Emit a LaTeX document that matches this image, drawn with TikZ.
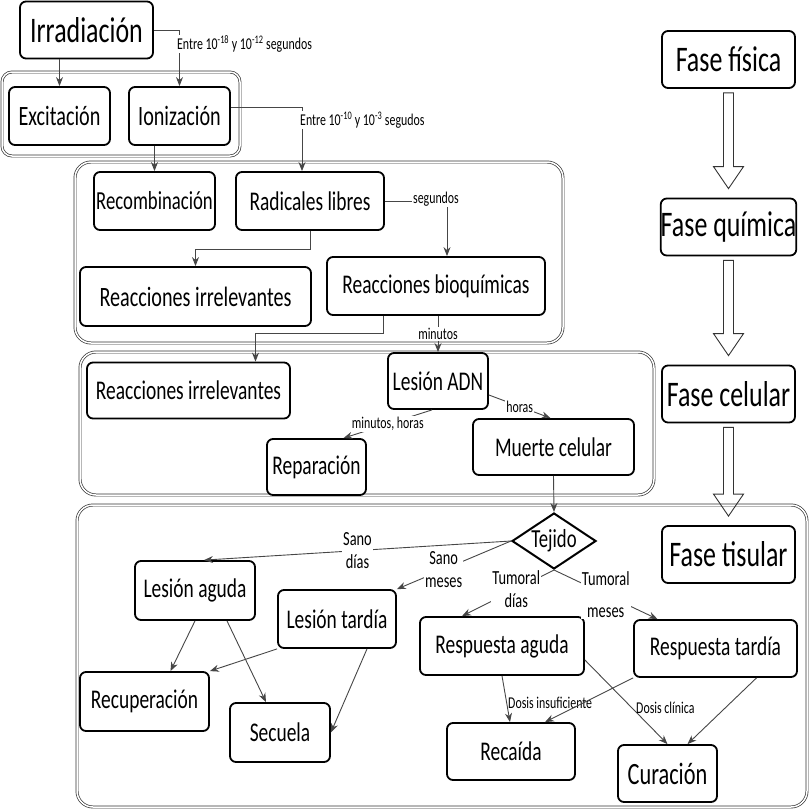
\documentclass[tikz,border=0pt]{standalone}
\usepackage{fontspec}
\setmainfont{Carlito}[FakeStretch=0.72]
\usepackage{tikz}
\usetikzlibrary{arrows.meta, calc, shapes.geometric}
\definecolor{lnk_gray}{RGB}{70,70,70}

\begin{document}
\begin{tikzpicture}[x=1pt,y=-1pt,
    caja/.style={draw, line width=1.8pt, rounded corners=6pt, fill=white, inner sep=0pt, font=\fontsize{27}{30}\selectfont},
    fase/.style={caja, font=\fontsize{36}{40}\selectfont, minimum width=133, minimum height=57},
    grupo/.style={draw=black!80, line width=0.7pt, double=white, double distance=1.5pt, rounded corners=16pt},
    flecha/.style={draw=lnk_gray, line width=0.9pt, -{Stealth[length=9pt,width=7pt]}},
    etiq/.style={fill=white, inner sep=1pt, font=\fontsize{16.5}{18}\selectfont},
    etiqT/.style={fill=white, inner sep=1pt, align=center, font=\fontsize{20}{23}\selectfont},
    hueco/.style={draw=black!80, line width=0.9pt}]
\useasboundingbox (0,0) rectangle (811,811);
%grupos
\draw[grupo, rounded corners=10pt] (2,72) rectangle (240,156);
\draw[grupo] (75,162) rectangle (563,343);
\draw[grupo] (80,352) rectangle (654,495);
\draw[grupo] (77,505) rectangle (807,807);
%fases
\node[fase] (ff) at (728.5,59.5) {Fase física};
\node[fase] (fq) at (728.5,227) {Fase química};
\node[fase] (fc) at (728.5,394) {Fase celular};
\node[fase] (ft) at (728.5,554.5) {Fase tisular};
\foreach \a/\b in {ff/fq, fq/fc, fc/ft}
  \draw[hueco] let \p1=($(\a.south)+(0,4)$), \p2=($(\b.north)+(0,-9)$) in
    (\x1-5pt,\y1) -- (\x1+5pt,\y1) -- (\x1+5pt,\y2+22pt) -- (\x1+15pt,\y2+22pt)
    -- (\x1,\y2) -- (\x1-15pt,\y2+22pt) -- (\x1-5pt,\y2+22pt) -- cycle;
%fase fisica
\node[caja, font=\fontsize{36}{40}\selectfont, minimum width=133, minimum height=57] (irr) at (86.5,30) {Irradiación};
\node[caja, font=\fontsize{28}{30}\selectfont, minimum width=101, minimum height=58] (exc) at (59.5,116) {Excitación};
\node[caja, font=\fontsize{28}{30}\selectfont, minimum width=101, minimum height=58] (ion) at (179.5,116) {Ionización};
%fase quimica
\node[caja, font=\fontsize{26}{30}\selectfont, minimum width=121, minimum height=58] (rec) at (154.5,201) {Recombinación};
\node[caja, minimum width=148, minimum height=58] (rad) at (310,201) {Radicales libres};
\node[caja, font=\fontsize{28}{30}\selectfont, minimum width=231, minimum height=59] (irrA) at (195.5,296.5) {Reacciones irrelevantes};
\node[caja, minimum width=218, minimum height=58] (bio) at (436,286) {Reacciones bioquímicas};
%fase celular
\node[caja, minimum width=203, minimum height=56] (irrB) at (188.5,390.5) {Reacciones irrelevantes};
\node[caja, minimum width=100, minimum height=56] (adn) at (438,381) {Lesión ADN};
\node[caja, minimum width=161, minimum height=56] (muer) at (553.5,447) {Muerte celular};
\node[caja, minimum width=99, minimum height=56] (rep) at (316.5,467) {Reparación};
%fase tisular
\node[draw, line width=2pt, diamond, aspect=1.5, inner sep=1pt, minimum width=82, minimum height=56, fill=white, font=\fontsize{26}{28}\selectfont] (tej) at (554,541) {Tejido};
\node[caja, minimum width=120, minimum height=59] (la) at (195,590.5) {Lesión aguda};
\node[caja, minimum width=118, minimum height=58] (lt) at (337,619) {Lesión tardía};
\node[caja, minimum width=129, minimum height=59] (recu) at (144.5,701.5) {Recuperación};
\node[caja, minimum width=100, minimum height=59] (sec) at (280,732.5) {Secuela};
\node[caja, minimum width=164, minimum height=58] (ra) at (502,646) {Respuesta aguda};
\node[caja, minimum width=163, minimum height=57] (rt) at (715.5,648.5) {Respuesta tardía};
\node[caja, minimum width=128, minimum height=57] (reca) at (511,751.5) {Recaída};
\node[caja, font=\fontsize{31}{34}\selectfont, minimum width=99, minimum height=57] (cur) at (667.5,773.5) {Curación};
%flechas
\draw[flecha] (irr.east) -| (ion.north);
\node[etiq, anchor=west] (lb1) at (176,44) {Entre 10\textsuperscript{-18} y 10\textsuperscript{-12} segundos};
\draw[flecha] (exc.north |- irr.south) -- (exc.north);
\draw[flecha] ([yshift=9pt]ion.east) -| ([xshift=-8pt]rad.north);
\node[etiq, anchor=west] (lb2) at (299,120) {Entre 10\textsuperscript{-10} y 10\textsuperscript{-3} segudos};
\draw[flecha] (rec.north |- ion.south) -- (rec.north);
\draw[flecha] (rad.east) -| ([xshift=11pt]bio.north);
\node[etiq] (lb3) at (436,199) {segundos};
\draw[flecha] (rad.south) -- ++(0,19) -| (irrA.north);
\draw[flecha] ([xshift=-53pt]bio.south) -- ++(0,18) -| ([xshift=67pt]irrB.north);
\draw[flecha] (adn.north |- bio.south) -- (adn.north) node[midway, etiq] {minutos};
\draw[flecha] ([xshift=-6pt]adn.south) -- ([xshift=27pt]rep.north) node[midway, etiq] {minutos, horas};
\draw[flecha] ([yshift=-14pt]adn.east) -- ([xshift=-3pt]muer.north) node[midway, etiq] {horas};
\draw[flecha] (muer.south) -- (tej.north);
\draw[flecha] (tej.west) -- ([xshift=9pt]la.north) node[midway, etiqT] {Sano\\días};
\draw[flecha] (tej.west) -- (lt.north east) node[pos=0.59, etiqT] {Sano\\meses};
\draw[flecha] (tej.south) -- ([xshift=-40pt]ra.north) node[pos=0.41, etiqT] {Tumoral\\días};
\draw[flecha] (tej.south) -- ([xshift=-58pt]rt.north) node[midway, etiqT] {Tumoral\\[9pt]meses};
\draw[flecha] (la.south) -- ([xshift=26pt]recu.north);
\draw[flecha] ([xshift=32pt]la.south) -- ([xshift=-14pt]sec.north);
\draw[flecha] (lt.south west) -- (recu.north east);
\draw[flecha] ([xshift=30pt]lt.south) -- (sec.east);
\draw[flecha] (ra.south) -- ([xshift=-1pt]reca.north);
\node[etiq, fill=none, anchor=west] (lb4) at (507,703) {Dosis insuficiente};
\draw[flecha] ([yshift=-14pt]ra.east) -- (cur.north);
\node[etiq, fill=none, anchor=west] (lb5) at (635,708) {Dosis clínica};
\draw[flecha] (rt.south west) -- ([xshift=34pt]reca.north);
\draw[flecha] ([xshift=41pt]rt.south) -- ([xshift=20pt]cur.north);
\end{tikzpicture}
\end{document}
